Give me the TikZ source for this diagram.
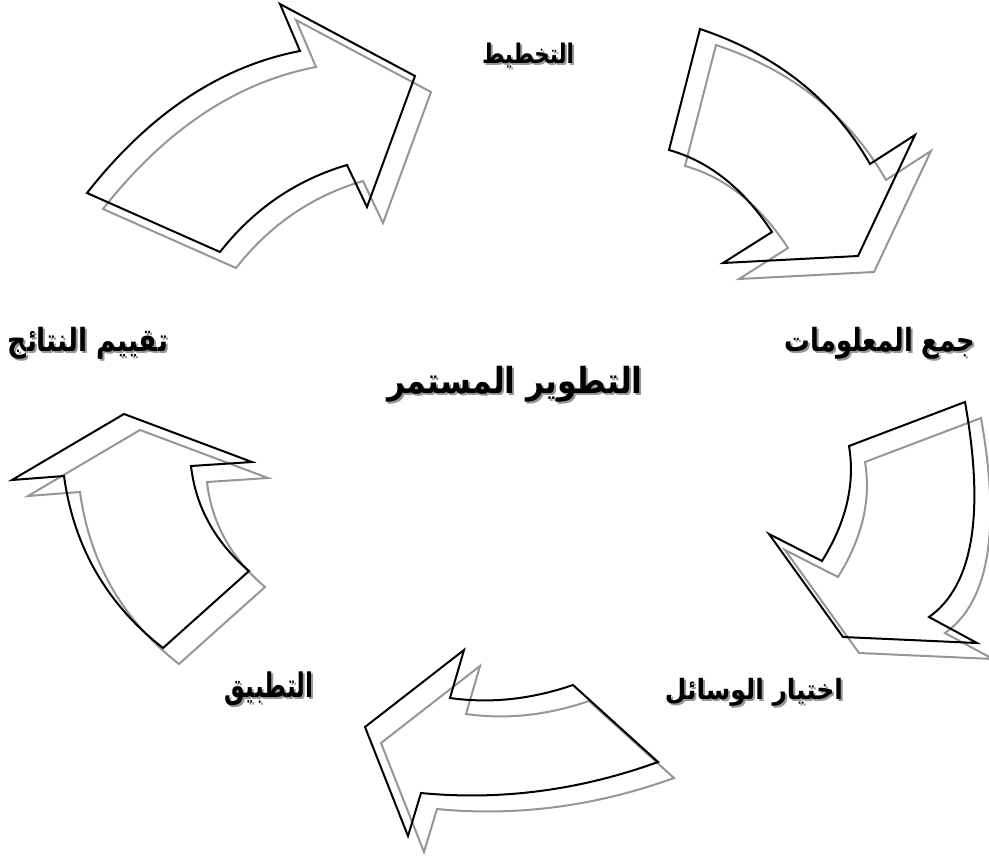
\documentclass[tikz,border=0pt]{standalone}
\usepackage{fontspec}
\usepackage{graphicx}
\newfontfamily\arfont[Script=Arabic]{DejaVu Sans}
\TeXXeTstate=1
\definecolor{shadowc}{RGB}{150,150,150}
\tikzset{
  outline/.style={line width=2pt, line join=miter},
  lbl/.style={inner sep=0pt, text=black},
}
\newcommand{\artxt}[3]{\resizebox*{#1}{#2}{\arfont\bfseries #3}}
\newcommand{\shtxt}[3]{\rlap{\kern2pt\raisebox{-2pt}{\color{shadowc}\artxt{#1}{#2}{#3}}}\artxt{#1}{#2}{#3}}
\begin{document}
\begin{tikzpicture}[x=1pt,y=-1pt]
\useasboundingbox (0,0) rectangle (989,857);
\foreach \c/\d in {shadowc/16,black/0}{
\begin{scope}[shift={(\d,\d)}]
% arrow 1: planning (top left)
\draw[outline,\c] (87,193) -- (220,252) .. controls (253.7,209) and (296,180) .. (347,165) -- (367,207) -- (415,76) -- (280,4) -- (300,51) .. controls (220.3,66.3) and (149.3,113.7) .. (87,193) -- cycle;
% arrow 2: top right
\draw[outline,\c] (700,29) -- (669,150) .. controls (709.3,161.3) and (743.7,188.7) .. (772,232) -- (723,263) -- (858,256) -- (915,135) -- (870,164) .. controls (833.3,99.7) and (776.7,54.7) .. (700,29) -- cycle;
% arrow 3: right
\draw[outline,\c] (965,402) -- (849,446) .. controls (855.3,483.7) and (846.3,522) .. (822,561) -- (769,534) -- (843,637) -- (977,643) -- (929,617) .. controls (973,586) and (985,514.3) .. (965,402) -- cycle;
% arrow 4: bottom
\draw[outline,\c] (573,685) -- (658,762) .. controls (579.7,790.3) and (500.7,800.7) .. (421,793) -- (408,836) -- (365,727) -- (464,650) -- (450,698) .. controls (490.3,703.7) and (531.3,699.3) .. (573,685) -- cycle;
% arrow 5: left
\draw[outline,\c] (163,648) -- (249,571) .. controls (215,542) and (195.7,507) .. (191,466) -- (252,462) -- (124,414) -- (12,480) -- (64,476) .. controls (73.7,546.7) and (106.7,604) .. (163,648) -- cycle;
\end{scope}
}
% labels
\node[lbl] (plan)  at (528,56)  {\shtxt{92pt}{25pt}{\beginR التخطيط\endR}};
\node[lbl] (info)  at (880,344) {\shtxt{190pt}{32pt}{\beginR جمع المعلومات\endR}};
\node[lbl] (eval)  at (88,344)  {\shtxt{160pt}{32pt}{\beginR تقييم النتائج\endR}};
\node[lbl] (tools) at (754,693) {\shtxt{178pt}{28pt}{\beginR اختيار الوسائل\endR}};
\node[lbl] (apply) at (269,690) {\shtxt{88pt}{34pt}{\beginR التطبيق\endR}};
\node[lbl] (title) at (515,385) {\shtxt{255pt}{36pt}{\beginR التطوير المستمر\endR}};
\end{tikzpicture}
\end{document}
